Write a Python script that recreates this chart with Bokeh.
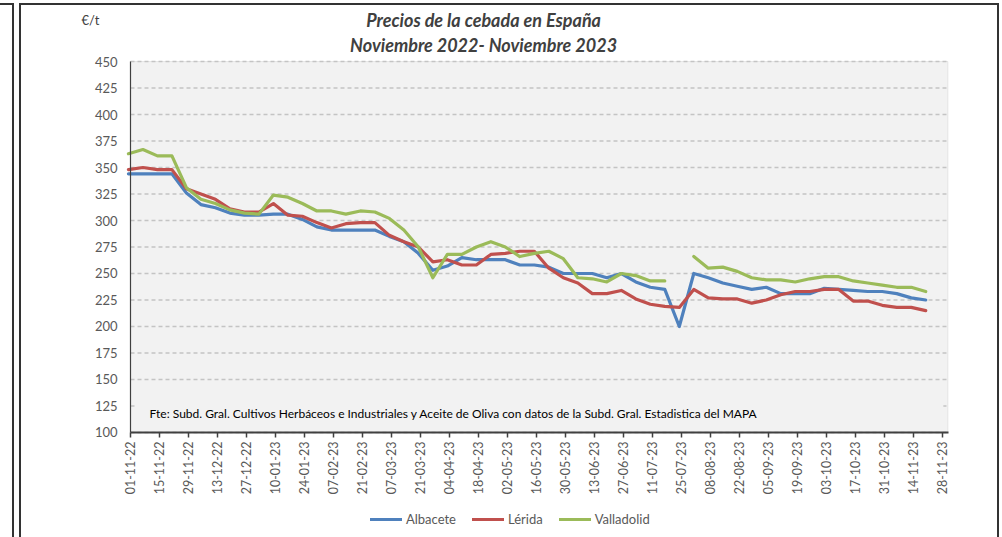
import math
from datetime import datetime
import pandas as pd
from bokeh.plotting import figure
from bokeh.models import (Range1d, FixedTicker, Label, Legend, LegendItem,
                          BoxAnnotation, ColumnDataSource, LinearAxis)
from bokeh.embed import file_html
from bokeh.resources import INLINE

# ---------------- data ----------------
origin = "2022-11-01"
first_week = "2022-10-31"
n_weeks = 56

albacete = [344, 344, 344, 344, 326, 315, 312, 307, 305, 305, 306, 306, 301, 294,
            291, 291, 291, 291, 285, 280, 269, 253, 257, 265, 263, 263, 263, 258,
            258, 256, 250, 250, 250, 246, 250, 242, 237, 235, 200, 250, 246, 241,
            238, 235, 237, 231, 231, 231, 236, 235, 234, 233, 233, 231, 227, 225]
lerida = [348, 350, 348, 348, 330, 325, 320, 311, 308, 308, 316, 305, 304, 298,
          293, 297, 298, 298, 286, 280, 275, 261, 263, 258, 258, 268, 269, 271,
          271, 255, 246, 241, 231, 231, 234, 226, 221, 219, 218, 235, 227, 226,
          226, 222, 225, 230, 233, 233, 235, 235, 224, 224, 220, 218, 218, 215]
valladolid = [363, 367, 361, 361, 331, 320, 316, 310, 307, 306, 324, 322, 316, 309,
              309, 306, 309, 308, 302, 291, 275, 246, 268, 268, 275, 280, 275, 266,
              269, 271, 264, 246, 245, 242, 250, 248, 243, 243, float("nan"), 266, 255, 256,
              252, 246, 244, 244, 242, 245, 247, 247, 243, 241, 239, 237, 237, 233]

tick_labels = ["01-11-22", "15-11-22", "29-11-22", "13-12-22", "27-12-22", "10-01-23",
               "24-01-23", "07-02-23", "21-02-23", "07-03-23", "21-03-23", "04-04-23",
               "18-04-23", "02-05-23", "16-05-23", "30-05-23", "13-06-23", "27-06-23",
               "11-07-23", "25-07-23", "08-08-23", "22-08-23", "05-09-23", "19-09-23",
               "03-10-23", "17-10-23", "31-10-23", "14-11-23", "28-11-23"]
y_ticks = [100, 125, 150, 175, 200, 225, 250, 275, 300, 325, 350, 375, 400, 425, 450]

series_names = ["Albacete", "Lérida", "Valladolid"]
series_colors = ["#4f81bd", "#c0504d", "#9bbb59"]

title_1 = "Precios de la cebada en España"
title_2 = "Noviembre 2022- Noviembre 2023"
unit_label = "€/t"
source_note = ("Fte: Subd. Gral. Cultivos Herbáceos e Industriales y Aceite de Oliva "
               "con datos de la Subd. Gral. Estadistica del MAPA")

# ---------------- derived ----------------
t0 = pd.Timestamp(origin)
dates = pd.date_range(first_week, periods=n_weeks, freq="7D")
xdays = [(d - t0).days for d in dates]
tick_pos = [(pd.Timestamp(datetime.strptime(s, "%d-%m-%y")) - t0).days for s in tick_labels]

src = ColumnDataSource(dict(x=xdays, Albacete=albacete, Lerida=lerida, Valladolid=valladolid))

FONT = "Lato"
Y_MIN, Y_MAX = y_ticks[0], y_ticks[-1]
X_MIN, X_MAX = 0, 395                 # plot-area date span (days from 01-11-22)
# the frame covers the whole canvas; the plot area is a sub-box of it
X_LEFT, X_RIGHT = -62.775, 421.07
Y_BOTTOM, Y_TOP = 0.94, 507.55

p = figure(width=1002, height=537, x_range=Range1d(X_LEFT, X_RIGHT), y_range=Range1d(Y_BOTTOM, Y_TOP),
           output_backend="svg", toolbar_location=None, x_axis_location=None, y_axis_location=None,
           min_border_left=0, min_border_right=0, min_border_top=0, min_border_bottom=0)

# chart borders drawn as page background (canvas is transparent)
line_c = "#333333"
p.styles = {
    "background-color": "white",
    "background-image": ", ".join([f"linear-gradient({line_c},{line_c})"] * 5),
    "background-position": "19px 3px, 997px 3px, 19px 3px, 12px 3px, 0px 3px",
    "background-size": "2px 540px, 2px 540px, 980px 2px, 2px 540px, 14px 2px",
    "background-repeat": "no-repeat",
}
p.border_fill_alpha = 0
p.background_fill_alpha = 0
p.outline_line_color = None
p.xgrid.visible = False
p.ygrid.visible = False

# grey plot area
p.add_layout(BoxAnnotation(left=X_MIN, right=X_MAX - 0.3, bottom=Y_MIN, top=Y_MAX,
                           fill_color="#f2f2f2", fill_alpha=1,
                           line_color="#bfbfbf", line_width=1, level="image"))

# dashed horizontal gridlines limited to the plot area
grid_src = ColumnDataSource(dict(x0=[X_MIN] * len(y_ticks), x1=[X_MAX] * len(y_ticks),
                                 y=y_ticks))
p.segment(x0="x0", x1="x1", y0="y", y1="y", source=grid_src, line_color="#c4c4c4",
          line_width=1.5, line_dash="4 3", level="underlay")

# value axis pinned at the first date
yax = LinearAxis(fixed_location=X_MIN)
yax.ticker = FixedTicker(ticks=y_ticks)
yax.bounds = (Y_MIN, Y_MAX)
yax.major_tick_out = 0
yax.major_tick_in = 0
yax.minor_tick_out = 0
yax.minor_tick_in = 0
yax.axis_line_color = "#404040"
yax.axis_line_width = 1.2
yax.major_label_standoff = 13
yax.major_label_text_font = FONT
yax.major_label_text_font_size = "13px"
yax.major_label_text_color = "#595959"
p.add_layout(yax, "left")

# date axis pinned at y = 100
xax = LinearAxis(fixed_location=Y_MIN)
xax.ticker = FixedTicker(ticks=tick_pos)
xax.bounds = (X_MIN, X_MAX)
xax.major_label_overrides = {tp: lab for tp, lab in zip(tick_pos, tick_labels)}
xax.major_label_orientation = math.pi / 2
xax.major_tick_out = 5
xax.major_tick_in = 0
xax.minor_tick_out = 0
xax.minor_tick_in = 0
xax.axis_line_color = "#404040"
xax.axis_line_width = 2
xax.major_tick_line_color = "#404040"
xax.major_tick_line_width = 1.5
xax.major_label_standoff = 4
xax.major_label_text_font = FONT
xax.major_label_text_font_size = "12.5px"
xax.major_label_text_color = "#595959"
p.add_layout(xax, "below")

renderers = []
for col, color in zip(["Albacete", "Lerida", "Valladolid"], series_colors):
    r = p.line("x", col, source=src, line_color=color, line_width=3.2,
               line_join="round", line_cap="round")
    renderers.append(r)

# source note with its own background (hides the 125 gridline)
p.add_layout(BoxAnnotation(left=3, right=392.5, bottom=113.5, top=132,
                           fill_color="#f2f2f2", fill_alpha=1, line_alpha=0))
p.add_layout(Label(x=9.2, y=118, text=source_note,
                   text_font=FONT, text_font_size="12px", text_color="#000000",
                   text_baseline="middle", text_align="left"))

# titles and unit
for txt, yy in [(title_1, 489.6), (title_2, 465.5)]:
    p.add_layout(Label(x=170.5, y=yy, text=txt,
                       text_font=FONT, text_font_size="18px", text_font_style="bold italic",
                       text_color="#404040", text_align="center", text_baseline="middle"))
p.add_layout(Label(x=-23.7, y=489.6, text=unit_label,
                   text_font=FONT, text_font_size="13px",
                   text_color="#404040", text_align="left", text_baseline="middle"))

legend = Legend(items=[LegendItem(label=n, renderers=[r]) for n, r in zip(series_names, renderers)],
                orientation="horizontal", location=(370, 8),
                border_line_alpha=0, background_fill_alpha=0,
                label_text_font=FONT, label_text_font_size="13px", label_text_color="#595959",
                glyph_width=32, glyph_height=20, label_height=20, label_standoff=4, spacing=16,
                padding=0, margin=0)
p.add_layout(legend)

open("out.html", "w").write(file_html(p, INLINE))
